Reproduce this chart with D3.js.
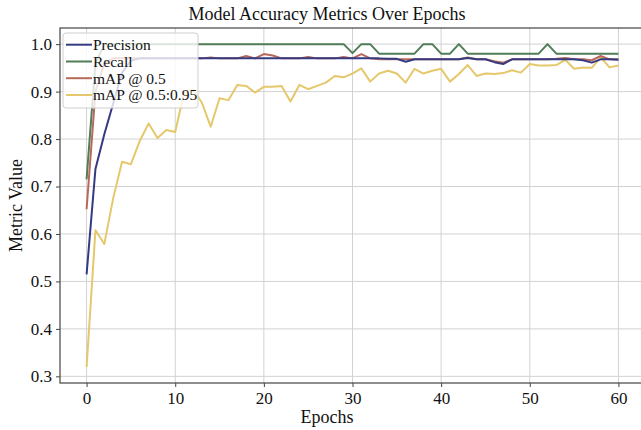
<!DOCTYPE html>
<html>
<head>
<meta charset="utf-8">
<script src="https://cdn.jsdelivr.net/npm/d3@7"></script>
<style>
  html, body { margin: 0; padding: 0; background: #fff; }
  svg { display: block; }
  text { font-family: "Liberation Serif", "Times New Roman", serif; fill: #111; }
</style>
</head>
<body>
<svg id="chart" width="641" height="430"></svg>
<script>
const epochs = d3.range(0, 61);

const precision = [0.515, 0.737, 0.81, 0.875, 0.94, 0.965, 0.97, 0.97, 0.97, 0.97,
  0.97, 0.97, 0.97, 0.97, 0.97, 0.97, 0.97, 0.97, 0.97, 0.97,
  0.97, 0.97, 0.97, 0.97, 0.97, 0.97, 0.97, 0.97, 0.97, 0.97,
  0.97, 0.97, 0.97, 0.97, 0.969, 0.969, 0.963, 0.968, 0.968, 0.968,
  0.968, 0.968, 0.968, 0.971, 0.968, 0.968, 0.962, 0.958, 0.968, 0.968,
  0.968, 0.968, 0.968, 0.968, 0.968, 0.968, 0.966, 0.961, 0.968, 0.968,
  0.967];

const recall = [0.715, 0.96, 1.0, 1.0, 1.0, 1.0, 1.0, 1.0, 1.0, 1.0,
  1.0, 1.0, 1.0, 1.0, 1.0, 1.0, 1.0, 1.0, 1.0, 1.0,
  1.0, 1.0, 1.0, 1.0, 1.0, 1.0, 1.0, 1.0, 1.0, 1.0,
  0.981, 1.0, 1.0, 0.98, 0.98, 0.98, 0.98, 0.98, 1.0, 1.0,
  0.98, 0.98, 1.0, 0.98, 0.98, 0.98, 0.98, 0.98, 0.98, 0.98,
  0.98, 0.98, 1.0, 0.98, 0.98, 0.98, 0.98, 0.98, 0.98, 0.98,
  0.98];

const map50 = [0.652, 0.90, 0.96, 0.97, 0.97, 0.97, 0.97, 0.97, 0.97, 0.97,
  0.97, 0.97, 0.97, 0.97, 0.972, 0.97, 0.97, 0.97, 0.975, 0.97,
  0.979, 0.976, 0.97, 0.97, 0.97, 0.973, 0.97, 0.97, 0.97, 0.973,
  0.97, 0.979, 0.97, 0.968, 0.968, 0.968, 0.968, 0.968, 0.968, 0.968,
  0.968, 0.968, 0.968, 0.972, 0.968, 0.968, 0.964, 0.961, 0.968, 0.968,
  0.968, 0.968, 0.968, 0.969, 0.971, 0.968, 0.968, 0.966, 0.975, 0.968,
  0.968];

const map5095 = [0.32, 0.608, 0.579, 0.675, 0.752, 0.747, 0.796, 0.833, 0.802, 0.819,
  0.815, 0.898, 0.905, 0.877, 0.826, 0.886, 0.882, 0.914, 0.912, 0.898,
  0.910, 0.910, 0.912, 0.879, 0.914, 0.905, 0.912, 0.919, 0.933, 0.930,
  0.938, 0.949, 0.921, 0.938, 0.944, 0.938, 0.919, 0.948, 0.938, 0.944,
  0.948, 0.921, 0.937, 0.956, 0.933, 0.938, 0.937, 0.939, 0.945, 0.940,
  0.958, 0.955, 0.955, 0.956, 0.967, 0.948, 0.951, 0.950, 0.972, 0.951,
  0.955];

const seriesNames = ["Precision", "Recall", "mAP @ 0.5", "mAP @ 0.5:0.95"];
const seriesColors = ["#353b82", "#4f7d57", "#b8695a", "#e5c86c"];
const seriesValues = [precision, recall, map50, map5095];

const xTicks = [0, 10, 20, 30, 40, 50, 60];
const yTicks = [0.3, 0.4, 0.5, 0.6, 0.7, 0.8, 0.9, 1.0];

const svg = d3.select("#chart");
const L = 60, R = 645, T = 28, B = 383;

const x = d3.scaleLinear().domain([-3, 63]).range([L, R]);
const y = d3.scaleLinear().domain([0.286, 1.034]).range([B, T]);

// grid
const grid = svg.append("g");
grid.selectAll("line.gx").data(xTicks).enter().append("line")
  .attr("x1", d => x(d)).attr("x2", d => x(d)).attr("y1", T).attr("y2", B)
  .attr("stroke", "#d2d2d2").attr("stroke-width", 1);
grid.selectAll("line.gy").data(yTicks).enter().append("line")
  .attr("x1", L).attr("x2", R).attr("y1", d => y(d)).attr("y2", d => y(d))
  .attr("stroke", "#d2d2d2").attr("stroke-width", 1);

// lines
const line = d3.line().x((d, i) => x(epochs[i])).y(d => y(d));
const order = [3, 1, 2, 0];
order.forEach(k => {
  svg.append("path").datum(seriesValues[k])
    .attr("d", line).attr("fill", "none")
    .attr("stroke", seriesColors[k]).attr("stroke-width", 2)
    .attr("stroke-linejoin", "round");
});

// spines
svg.append("rect").attr("x", L).attr("y", T).attr("width", R - L).attr("height", B - T)
  .attr("fill", "none").attr("stroke", "#444").attr("stroke-width", 1.2);

// axes
const xAxis = d3.axisBottom(x).tickValues(xTicks).tickFormat(d3.format("d")).tickSize(4).tickPadding(5);
const yAxis = d3.axisLeft(y).tickValues(yTicks).tickFormat(d3.format(".1f")).tickSize(4).tickPadding(4);
const gx = svg.append("g").attr("transform", `translate(0,${B})`).call(xAxis);
const gy = svg.append("g").attr("transform", `translate(${L},0)`).call(yAxis);
[gx, gy].forEach(g => {
  g.select(".domain").remove();
  g.selectAll(".tick line").attr("stroke", "#444");
  g.selectAll(".tick text").style("font-family", "'Liberation Serif', serif")
    .style("font-size", "17px").attr("fill", "#111");
});

// title & labels
svg.append("text").attr("x", 327).attr("y", 20).attr("text-anchor", "middle")
  .style("font-size", "18px").text("Model Accuracy Metrics Over Epochs");
svg.append("text").attr("x", 327).attr("y", 423).attr("text-anchor", "middle")
  .style("font-size", "18px").text("Epochs");
svg.append("text").attr("transform", `translate(22,${(T + B) / 2}) rotate(-90)`)
  .attr("text-anchor", "middle").style("font-size", "18px").text("Metric Value");

// legend
const lg = svg.append("g");
lg.append("rect").attr("x", 63).attr("y", 33).attr("width", 135).attr("height", 75)
  .attr("rx", 3).attr("fill", "#fff").attr("fill-opacity", 0.8)
  .attr("stroke", "#cfcfcf").attr("stroke-width", 1);
const rowY = [44.7, 61.5, 78.2, 95];
seriesNames.forEach((name, i) => {
  lg.append("line").attr("x1", 66).attr("x2", 92).attr("y1", rowY[i]).attr("y2", rowY[i])
    .attr("stroke", seriesColors[i]).attr("stroke-width", 2);
  lg.append("text").attr("x", 93).attr("y", rowY[i]).attr("dy", "0.35em")
    .style("font-size", "15.5px").text(name);
});
</script>
</body>
</html>
